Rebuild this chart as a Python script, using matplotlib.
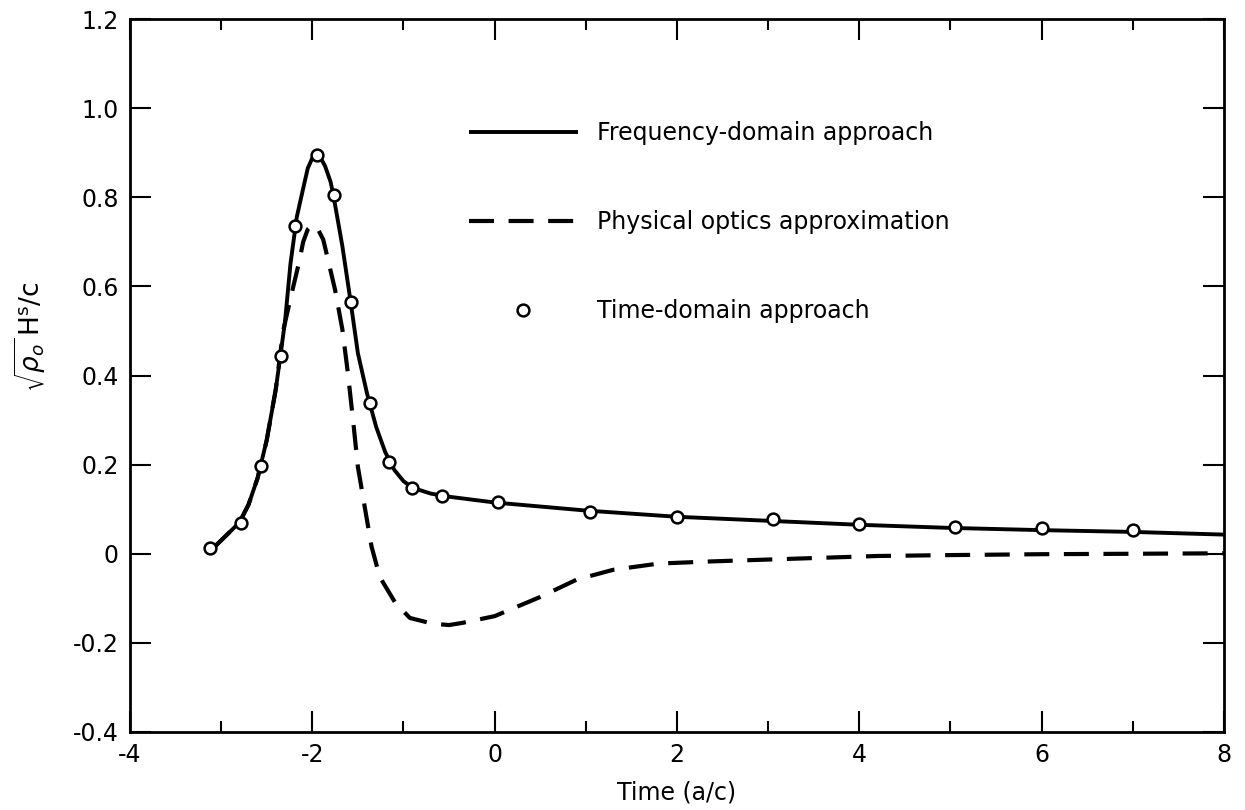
import matplotlib
matplotlib.use("Agg")
import matplotlib.pyplot as plt

# valores
t_freq = [-3.1, -2.95, -2.8, -2.7, -2.6, -2.5, -2.4, -2.3, -2.24, -2.17, -2.1, -2.05,
          -2.0, -1.95, -1.9, -1.86, -1.8, -1.77, -1.67, -1.58, -1.5, -1.4, -1.3, -1.2,
          -1.1, -1.0, -0.9, -0.7, -0.5, 0.0, 1.0, 2.0, 3.0, 4.0, 5.0, 6.0, 7.0, 8.0]
v_freq = [0.01, 0.04, 0.07, 0.11, 0.17, 0.255, 0.37, 0.52, 0.65, 0.756, 0.82, 0.865,
          0.888, 0.895, 0.885, 0.87, 0.835, 0.806, 0.69, 0.566, 0.45, 0.36, 0.285, 0.228,
          0.188, 0.163, 0.148, 0.135, 0.128, 0.115, 0.097, 0.083, 0.074, 0.065, 0.058,
          0.053, 0.049, 0.043]

t_po = [-3.1, -2.95, -2.8, -2.7, -2.6, -2.5, -2.4, -2.32, -2.22, -2.15, -2.1, -2.05,
        -2.0, -1.95, -1.88, -1.75, -1.67, -1.61, -1.55, -1.5, -1.42, -1.35, -1.26, -1.09,
        -0.93, -0.68, -0.5, -0.35, 0.0, 0.5, 0.9, 1.3, 1.8, 2.4, 3.3, 4.2, 5.0, 6.0,
        7.0, 8.0]
v_po = [0.01, 0.04, 0.07, 0.11, 0.17, 0.255, 0.37, 0.50, 0.59, 0.65, 0.70, 0.728,
        0.738, 0.733, 0.705, 0.592, 0.503, 0.406, 0.294, 0.195, 0.099, 0.016, -0.052, -0.11,
        -0.144, -0.157, -0.16, -0.155, -0.14, -0.097, -0.058, -0.036, -0.022, -0.017,
        -0.011, -0.005, -0.003, -0.001, 0.0, 0.001]

t_time = [-3.12, -2.78, -2.56, -2.34, -2.19, -1.95, -1.76, -1.58, -1.37, -1.16,
          -0.91, -0.58, 0.04, 1.05, 2.0, 3.05, 4.0, 5.05, 6.0, 7.0]
v_time = [0.012, 0.07, 0.197, 0.444, 0.736, 0.895, 0.806, 0.566, 0.339, 0.206,
          0.148, 0.130, 0.117, 0.094, 0.083, 0.078, 0.066, 0.060, 0.057, 0.054]

x_ticks = [-4, -2, 0, 2, 4, 6, 8]
y_ticks = [-0.4, -0.2, 0, 0.2, 0.4, 0.6, 0.8, 1.0, 1.2]
y_labels = ['-0.4', '-0.2', '0', '0.2', '0.4', '0.6', '0.8', '1.0', '1.2']

fs = 17
fig = plt.figure(figsize=(12.45, 8.1), dpi=100)
ax = fig.add_axes([0.1044, 0.0963, 0.8787, 0.8802])

ax.plot(t_freq, v_freq, color='black', lw=2.8, solid_capstyle='butt',
        solid_joinstyle='round', label='Frequency-domain approach')
ax.plot(t_po, v_po, color='black', lw=3, linestyle=(0, (6, 3.5)),
        label='Physical optics approximation')
ax.plot(t_time, v_time, linestyle='none', marker='o', markersize=8.5,
        markerfacecolor='white', markeredgecolor='black', markeredgewidth=1.8,
        label='Time-domain approach', zorder=5)

ax.set_xlim(-4, 8)
ax.set_ylim(-0.4, 1.2)
ax.set_xticks(x_ticks)
ax.set_xticklabels([str(v) for v in x_ticks], fontsize=fs)
ax.set_xticks(range(-3, 8, 2), minor=True)
ax.set_yticks(y_ticks)
ax.set_yticklabels(y_labels, fontsize=fs)

ax.tick_params(which='both', direction='in', top=True, right=True, width=1.5)
ax.tick_params(which='major', length=15, pad=8)
ax.tick_params(which='minor', length=8)
for s in ax.spines.values():
    s.set_linewidth(2)

ax.set_xlabel('Time (a/c)', fontsize=fs, labelpad=10)
ax.set_ylabel(r'$\sqrt{\rho_o}\,\mathregular{H^s/c}$', fontsize=fs + 2)
ax.yaxis.set_label_coords(-0.075, 0.555)

ax.legend(loc='upper left', bbox_to_anchor=(0.31, 0.857), frameon=False,
          fontsize=fs, handlelength=4.6, handletextpad=0.8, labelspacing=2.75,
          borderpad=0, borderaxespad=0)

fig.savefig('out.png', dpi=100)
